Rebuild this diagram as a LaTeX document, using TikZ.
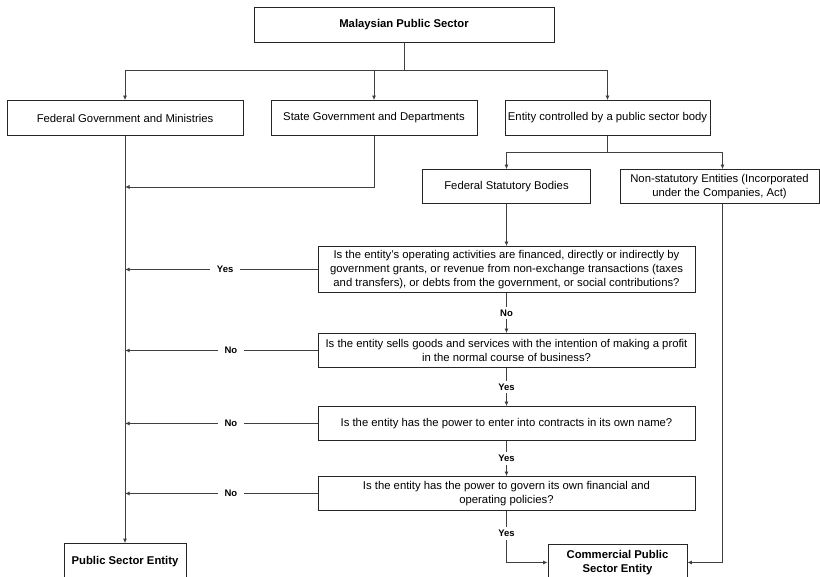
\documentclass[tikz,border=0pt]{standalone}
\usepackage{fontspec}
\setmainfont{Liberation Sans}
\usepackage{xcolor}
\usepackage{tikz}
\usetikzlibrary{arrows.meta,positioning}

\begin{document}
\begin{tikzpicture}[
    x=1pt, y=-1pt,
    every node/.style={font=\fontsize{11.3}{14}\selectfont},
    box/.style={draw=black!85, rectangle, line width=0.8pt, align=center, inner sep=2pt},
    ans/.style={fill=white, font=\fontsize{9.5}{11}\selectfont\bfseries, inner xsep=3pt, inner ysep=3pt},
    side/.style={ans, inner xsep=7pt},
    line/.style={draw=black!75, line width=0.8pt},
    arr/.style={line, -{Latex[length=4.5pt,width=4pt]}}
]
\useasboundingbox (0,0) rectangle (820,577);

% Top
\node[box, minimum width=300pt, minimum height=35pt] (top) at (404, 25) {\textbf{Malaysian Public Sector}};

% Second level
\node[box, minimum width=236pt, minimum height=35pt] (fed)   at (125, 118) {Federal Government and Ministries};
\node[box, minimum width=206pt, minimum height=35pt] (state) at (374, 118) {State Government and Departments};
\node[box, minimum width=205pt, minimum height=35pt] (ctrl)  at (607.5, 118) {Entity controlled by a public sector body};

\draw[arr] (top.south) -- ++(0,27.5) -| (fed.north);
\draw[arr] (top.south) -- ++(0,27.5) -| (state.north);
\draw[arr] (top.south) -- ++(0,27.5) -| (ctrl.north);

% Third level
\node[box, minimum width=168pt, minimum height=34pt] (fsb)     at (506.5, 186.5) {Federal Statutory Bodies};
\node[box, minimum width=199pt, minimum height=34pt] (nonstat) at (719.5, 186.5)
{Non-statutory Entities (Incorporated\\under the Companies, Act)};

\draw[arr] (ctrl.south) -- ++(0,16.5) -| (fsb.north);
\draw[arr] (ctrl.south) -- ++(0,16.5) -| ([xshift=3pt]nonstat.north);

% Questions
\node[box, minimum width=377pt, minimum height=46pt] (q1) at (506.5, 269.5)
{Is the entity's operating activities are financed, directly or indirectly by\\
government grants, or revenue from non-exchange transactions (taxes\\
and transfers), or debts from the government, or social contributions?};
\node[box, minimum width=377pt, minimum height=34pt] (q2) at (506.5, 350.5)
{Is the entity sells goods and services with the intention of making a profit\\
in the normal course of business?};
\node[box, minimum width=377pt, minimum height=34pt] (q3) at (506.5, 423.5)
{Is the entity has the power to enter into contracts in its own name?};
\node[box, minimum width=377pt, minimum height=34pt] (q4) at (506.5, 493.5)
{Is the entity has the power to govern its own financial and\\
operating policies?};

% Outcomes
\node[box, minimum width=122pt, minimum height=37pt] (pse)  at (125, 562) {\textbf{Public Sector Entity}};
\node[box, minimum width=139pt, minimum height=36pt] (cpse) at (617.5, 562.5)
{\textbf{Commercial Public}\\\textbf{Sector Entity}};

% Main line to public sector entity
\draw[arr] (fed.south) -- (pse.north);
\coordinate (j0) at (125, 187);
\draw[arr] (state.south) |- (j0);

\draw[arr] (q1.west) -- (q1.west -| fed.south) node[side, pos=0.48] {Yes};
\draw[arr] (q2.west) -- (q2.west -| fed.south) node[side, pos=0.45] {No};
\draw[arr] (q3.west) -- (q3.west -| fed.south) node[side, pos=0.45] {No};
\draw[arr] (q4.west) -- (q4.west -| fed.south) node[side, pos=0.45] {No};

% Down the questions
\draw[arr] (fsb.south) -- (q1.north);
\draw[arr] (q1.south) -- (q2.north) node[ans, midway] {No};
\draw[arr] (q2.south) -- (q3.north) node[ans, midway] {Yes};
\draw[arr] (q3.south) -- (q4.north) node[ans, midway] {Yes};
\draw[arr] (q4.south) |- (cpse.west) node[ans, pos=0.22] {Yes};
\draw[arr] ([xshift=3pt]nonstat.south) |- (cpse.east);

\end{tikzpicture}
\end{document}
